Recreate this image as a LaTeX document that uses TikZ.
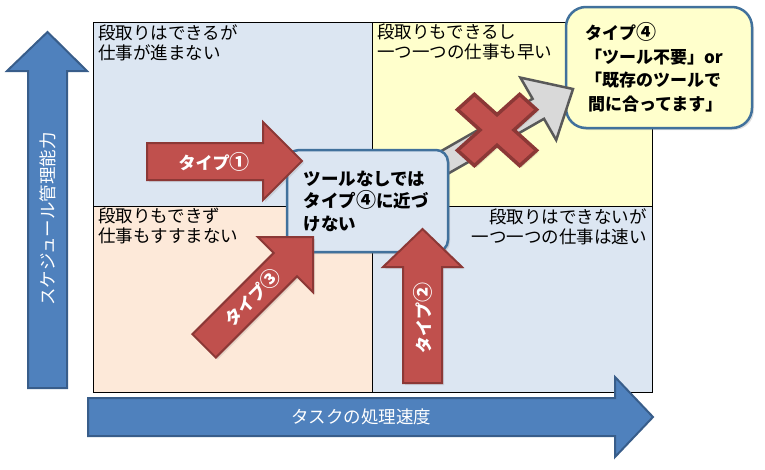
\documentclass[tikz,border=0pt]{standalone}
\usepackage{fontspec}
\setmainfont{Noto Sans CJK JP}
\usetikzlibrary{shadows}
\definecolor{qblue}{HTML}{DCE6F2}
\definecolor{qyellow}{HTML}{FFFFCC}
\definecolor{qpeach}{HTML}{FDE9D9}
\definecolor{axblue}{HTML}{4F81BD}
\definecolor{axborder}{HTML}{385D8A}
\definecolor{tred}{HTML}{C0504D}
\definecolor{tredborder}{HTML}{8C3836}
\definecolor{boxborder}{HTML}{41719C}
\definecolor{grayfill}{HTML}{D9D9D9}
\definecolor{grayborder}{HTML}{595959}
\newcommand{\circnum}[1]{{\fontsize{20}{20}\selectfont #1}}
\begin{document}
\begin{tikzpicture}[x=1pt,y=-1pt,
  qlabel/.style={font=\fontsize{17.5}{20}\selectfont, inner sep=0pt},
  axisarrow/.style={fill=axblue, draw=axborder, line width=2pt, line join=miter},
  redarrow/.style={fill=tred, draw=tredborder, line width=2pt, line join=miter,
    drop shadow={opacity=0.2, shadow xshift=2pt, shadow yshift=-2pt}},
  grayarrow/.style={fill=grayfill, draw=grayborder, line width=2.5pt, line join=miter},
  axistext/.style={font=\fontsize{17.5}{20}\selectfont, text=white, inner sep=0pt},
  typetext/.style={font=\bfseries\fontsize{17}{20}\selectfont, text=white, inner sep=0pt},
  callout/.style={draw=boxborder, line width=2.5pt, align=left, inner sep=0pt,
    drop shadow={opacity=0.25, shadow xshift=2pt, shadow yshift=-2pt}},
  xmark/.style={fill=tred, draw=tredborder, line width=3.5pt, line join=miter,
    drop shadow={opacity=0.2, shadow xshift=2pt, shadow yshift=-2pt}}
]
\useasboundingbox (0,0) rectangle (765,469);

% quadrants
\fill[qblue] (93,22) rectangle (372,206);
\fill[qyellow] (372,22) rectangle (652,206);
\fill[qpeach] (93,206) rectangle (372,392);
\fill[qblue] (372,206) rectangle (652,392);
\draw[black, line width=1pt] (93,22) rectangle (652,392);
\draw[black, line width=1pt] (372,22) -- (372,392);
\draw[black, line width=1pt] (93,206) -- (652,206);

% quadrant labels
\node[qlabel, anchor=north west, align=left] (tl) at (98,24) {段取りはできるが\\仕事が進まない};
\node[qlabel, anchor=north west, align=left] (tr) at (377,24) {段取りもできるし\\一つ一つの仕事も早い};
\node[qlabel, anchor=north west, align=left] (bl) at (98,208) {段取りもできず\\仕事もすすまない};
\node[qlabel, anchor=north east, align=right] (br) at (647,208) {段取りはできないが\\一つ一つの仕事は速い};

% axis arrows
\draw[axisarrow] (28,388) -- (28,71) -- (7,71) -- (47.5,32) -- (87,71) -- (67,71) -- (67,388) -- cycle;
\node[axistext, rotate=90] (yaxis) at (47.5,219) {スケジュール管理能力};
\draw[axisarrow] (88,398) -- (615,398) -- (615,377) -- (653,417) -- (615,457) -- (615,436) -- (88,436) -- cycle;
\node[axistext] (xaxis) at (361,417) {タスクの処理速度};

% type 4 box
\node[callout, fill=qyellow, rounded corners=20pt, minimum width=186pt, minimum height=121pt,
  text width=148pt, font=\bfseries\fontsize{17}{23.5}\selectfont] (type4) at (659,67.5)
  {タイプ\circnum{④}\\「ツール不要」or\\「既存のツールで\\\hspace*{3pt}間に合ってます」};

% gray arrow (blocked)
\draw[grayarrow] (393.7,178.2) -- (532.6,98.8) -- (520.4,77.6) -- (573,89) -- (556.2,140.0) -- (544.0,118.8) -- (405.1,198.2) -- cycle;

% center box
\node[callout, fill=qblue, rounded corners=12pt, minimum width=161pt, minimum height=102pt,
  text width=128pt, font=\bfseries\fontsize{17.5}{22.5}\selectfont] (center) at (367.5,201)
  {ツールなしでは\\タイプ\circnum{④}に近づ\\けない};

% red X
\begin{scope}[shift={(497,130)}, yscale=0.9, rotate=45]
\draw[xmark] (12,12) -- (44,12) -- (44,-12) -- (12,-12) -- (12,-44) -- (-12,-44) -- (-12,-12)
  -- (-44,-12) -- (-44,12) -- (-12,12) -- (-12,44) -- (12,44) -- cycle;
\end{scope}

% type arrows
\draw[redarrow] (147,143) -- (263,143) -- (263,122) -- (302,161) -- (263,200) -- (263,180) -- (147,180) -- cycle;
\node[typetext] (t1) at (214,161.5) {タイプ\circnum{①}};

\draw[redarrow] (403,383) -- (403,267) -- (383,267) -- (422.5,229) -- (462,267) -- (442,267) -- (442,383) -- cycle;
\node[typetext, rotate=90] (t2) at (422.5,318) {タイプ\circnum{②}};

\draw[redarrow] (192.4,334.2) -- (273.7,252.9) -- (257.8,237) -- (313,237) -- (313,292.2) -- (297.1,276.3) -- (215.8,357.6) -- cycle;
\node[typetext, rotate=45] (t3) at (252,297) {タイプ\circnum{③}};
\end{tikzpicture}
\end{document}
